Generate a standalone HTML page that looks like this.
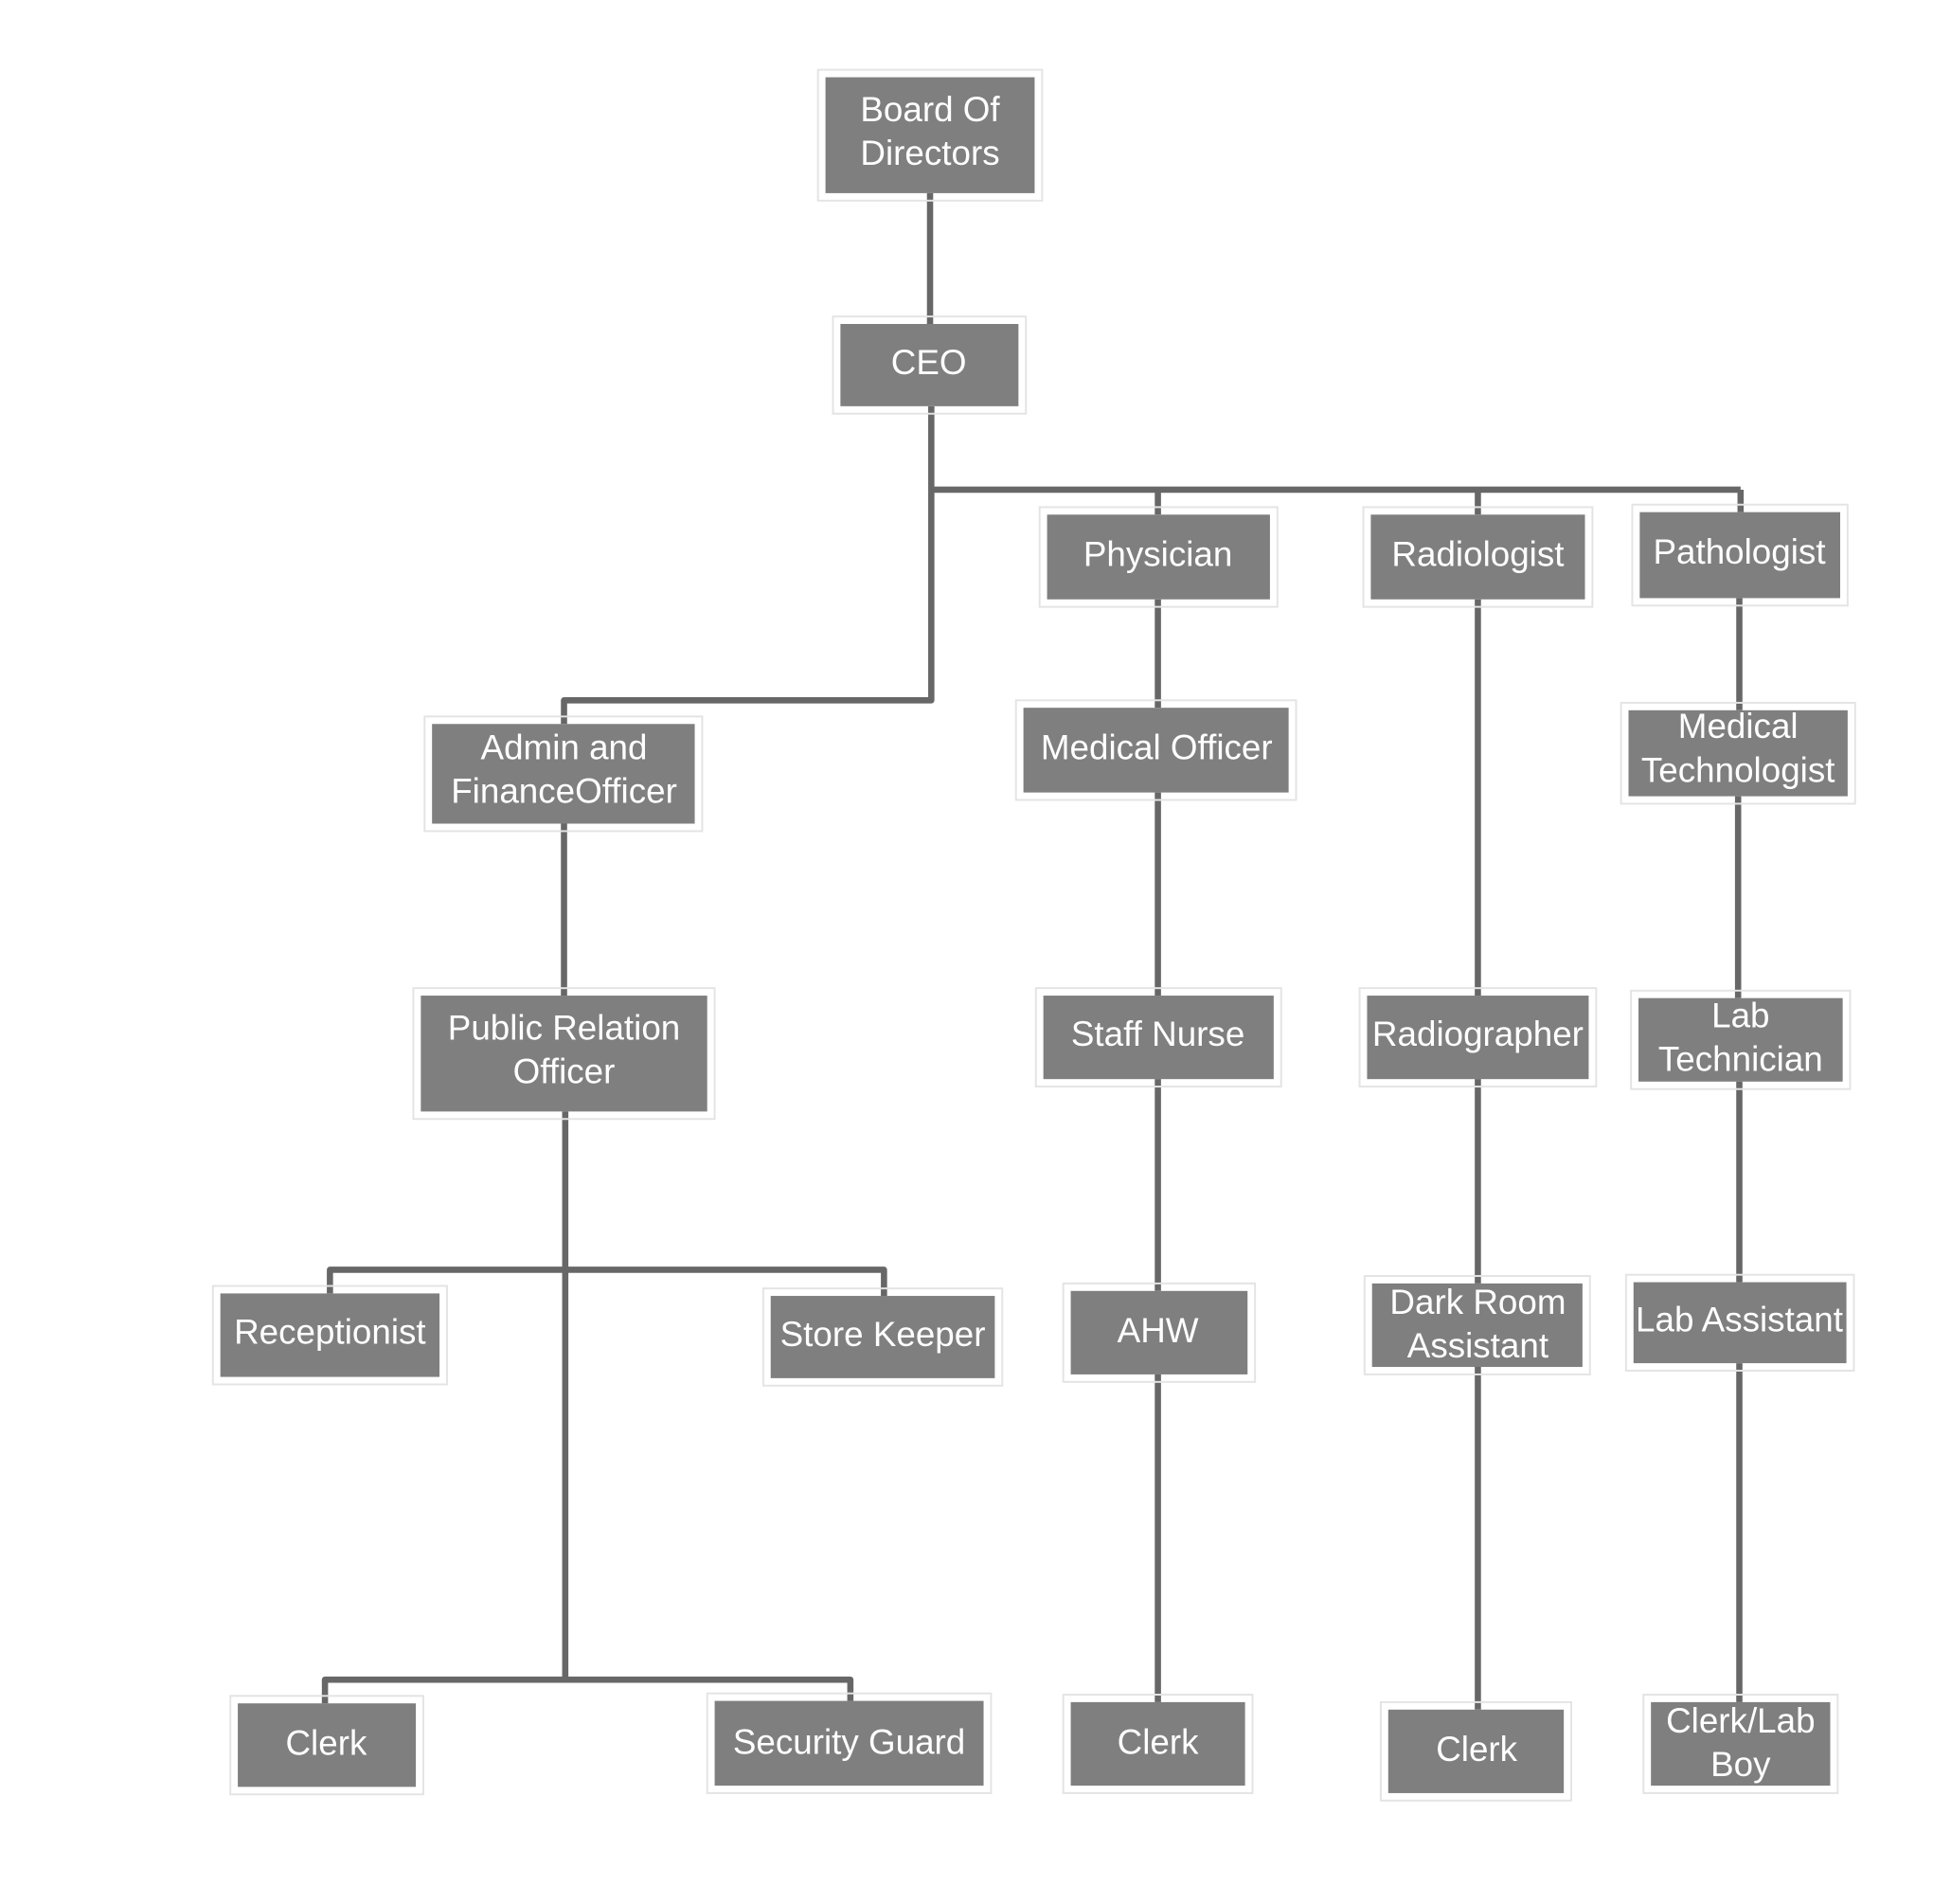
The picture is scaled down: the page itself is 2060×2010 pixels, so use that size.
<!DOCTYPE html>
<html><head><meta charset="utf-8"><style>
html,body{margin:0;padding:0;background:#fff;}
svg{display:block;}
text{font-family:"Liberation Sans",sans-serif;font-size:28px;fill:#fff;text-anchor:middle;dominant-baseline:middle;}
</style></head><body>
<svg width="2060" height="2010" viewBox="0 0 1567 1528" preserveAspectRatio="none" xmlns="http://www.w3.org/2000/svg">
<g stroke="#676767" stroke-width="5" fill="none" stroke-linejoin="round">
<path d="M747 155V260"/>
<path d="M748 326V562H453V581"/>
<path d="M748 393H1398"/>
<path d="M930 393V413M1187 393V413M1398 393V411"/>
<path d="M930 481V568M930 636V799M930 866V1036M930 1103V1366"/>
<path d="M1187 481V799M1187 866V1030M1187 1097V1372"/>
<path d="M1397 480V570M1396 639V801M1397 868V1029M1397 1094V1366"/>
<path d="M453 661V799M454 892V1348"/>
<path d="M265 1038V1019H710V1040"/>
<path d="M261 1367V1348H683V1365"/>
</g>
<g fill="#7f7f7f">
<rect x="663" y="62" width="168" height="93"/>
<rect x="675" y="260" width="143" height="66"/>
<rect x="841" y="413" width="179" height="68"/>
<rect x="1101" y="413" width="172" height="68"/>
<rect x="1317" y="411" width="161" height="69"/>
<rect x="347" y="581" width="211" height="80"/>
<rect x="822" y="568" width="213" height="68"/>
<rect x="1308" y="570" width="176" height="69"/>
<rect x="338" y="799" width="230" height="93"/>
<rect x="838" y="799" width="185" height="67"/>
<rect x="1098" y="799" width="178" height="67"/>
<rect x="1316" y="801" width="164" height="67"/>
<rect x="177" y="1038" width="176" height="67"/>
<rect x="619" y="1040" width="180" height="66"/>
<rect x="860" y="1036" width="142" height="67"/>
<rect x="1102" y="1030" width="169" height="67"/>
<rect x="1312" y="1029" width="171" height="65"/>
<rect x="191" y="1367" width="143" height="67"/>
<rect x="574" y="1365" width="216" height="68"/>
<rect x="860" y="1366" width="140" height="67"/>
<rect x="1115" y="1372" width="141" height="67"/>
<rect x="1326" y="1366" width="144" height="67"/>
</g>
<g fill="none" stroke="#e4e4e4" stroke-width="1.5">
<rect x="657" y="56" width="180" height="105"/>
<rect x="669" y="254" width="155" height="78"/>
<rect x="835" y="407" width="191" height="80"/>
<rect x="1095" y="407" width="184" height="80"/>
<rect x="1311" y="405" width="173" height="81"/>
<rect x="341" y="575" width="223" height="92"/>
<rect x="816" y="562" width="225" height="80"/>
<rect x="1302" y="564" width="188" height="81"/>
<rect x="332" y="793" width="242" height="105"/>
<rect x="832" y="793" width="197" height="79"/>
<rect x="1092" y="793" width="190" height="79"/>
<rect x="1310" y="795" width="176" height="79"/>
<rect x="171" y="1032" width="188" height="79"/>
<rect x="613" y="1034" width="192" height="78"/>
<rect x="854" y="1030" width="154" height="79"/>
<rect x="1096" y="1024" width="181" height="79"/>
<rect x="1306" y="1023" width="183" height="77"/>
<rect x="185" y="1361" width="155" height="79"/>
<rect x="568" y="1359" width="228" height="80"/>
<rect x="854" y="1360" width="152" height="79"/>
<rect x="1109" y="1366" width="153" height="79"/>
<rect x="1320" y="1360" width="156" height="79"/>
</g>
<text x="747" y="90">Board Of</text><text x="747" y="125">Directors</text>
<text x="746" y="293">CEO</text>
<text x="930" y="447">Physician</text>
<text x="1187" y="447">Radiologist</text>
<text x="1397" y="445">Pathologist</text>
<text x="453" y="602">Admin and</text><text x="453" y="637">FinanceOfficer</text>
<text x="929" y="602">Medical Officer</text>
<text x="1396" y="585">Medical</text><text x="1396" y="620">Technologist</text>
<text x="453" y="827">Public Relation</text><text x="453" y="862">Officer</text>
<text x="930" y="832">Staff Nurse</text>
<text x="1187" y="832">Radiographer</text>
<text x="1398" y="817">Lab</text><text x="1398" y="852">Technician</text>
<text x="265" y="1071">Receptionist</text>
<text x="709" y="1073">Store Keeper</text>
<text x="930" y="1070">AHW</text>
<text x="1187" y="1047">Dark Room</text><text x="1187" y="1082">Assistant</text>
<text x="1397" y="1061">Lab Assistant</text>
<text x="262" y="1401">Clerk</text>
<text x="682" y="1400">Security Guard</text>
<text x="930" y="1400">Clerk</text>
<text x="1186" y="1406">Clerk</text>
<text x="1398" y="1383">Clerk/Lab</text><text x="1398" y="1418">Boy</text>
</svg>
</body></html>
